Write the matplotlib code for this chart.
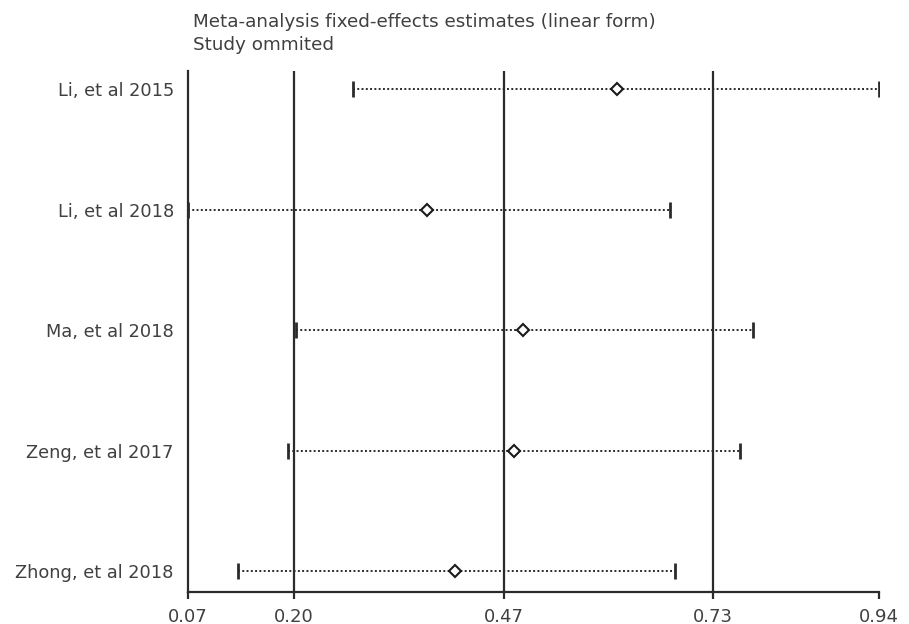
import numpy as np
import matplotlib
matplotlib.use('Agg')
import matplotlib.pyplot as plt

# studies, top to bottom
studies = ['Li, et al 2015', 'Li, et al 2018', 'Ma, et al 2018',
           'Zeng, et al 2017', 'Zhong, et al 2018']
estimate = [0.610, 0.371, 0.492, 0.481, 0.406]
lower = [0.278, 0.070, 0.206, 0.196, 0.133]
upper = [0.940, 0.677, 0.781, 0.765, 0.683]

# overall fixed-effects estimate and its CI (reference lines)
overall = [0.204, 0.468, 0.7315]

tick_pos = [0.07, 0.204, 0.468, 0.7315, 0.94]
tick_labels = ['0.07', '0.20', '0.47', '0.73', '0.94']

plt.rcParams['font.family'] = ['DejaVu Sans']
line_col = '#2b2b2b'
text_col = '#404040'

fig = plt.figure(figsize=(9.09, 6.24), dpi=100)
ax = fig.add_axes([0.2065, 0.0505, 0.7605, 0.8355])

y = np.arange(len(studies))[::-1] + 1

for v in overall:
    ax.axvline(v, color=line_col, lw=1.6, zorder=1)

ax.hlines(y, lower, upper, colors=line_col, linestyles=(0, (1, 1.2)), lw=1.4, zorder=2)
ax.plot(lower, y, linestyle='none', marker='|', markersize=11, mew=2, color=line_col, zorder=3)
ax.plot(upper, y, linestyle='none', marker='|', markersize=11, mew=2, color=line_col, zorder=3)
ax.plot(estimate, y, linestyle='none', marker='D', markersize=6, mfc='white',
        mec='#1a1a1a', mew=1.5, zorder=4)

ax.set_xlim(0.07, 0.94)
ax.set_ylim(0.822, 5.149)
ax.set_xticks(tick_pos)
ax.set_xticklabels(tick_labels)
ax.set_yticks(y)
ax.set_yticklabels(studies)

ax.spines['top'].set_visible(False)
ax.spines['right'].set_visible(False)
ax.spines['left'].set_linewidth(1.6)
ax.spines['bottom'].set_linewidth(1.6)
ax.spines['left'].set_color(line_col)
ax.spines['bottom'].set_color(line_col)
ax.tick_params(axis='y', length=0, pad=10, labelsize=12.8, labelcolor=text_col)
ax.tick_params(axis='x', length=5, width=1.6, color=line_col, pad=6,
               labelsize=13, labelcolor=text_col)

fig.text(0.212, 0.965, 'Meta-analysis fixed-effects estimates (linear form)',
         fontsize=13.2, color=text_col, va='center', ha='left')
fig.text(0.212, 0.928, 'Study ommited', fontsize=13.2, color=text_col, va='center', ha='left')

fig.savefig('out.png', dpi=100)
